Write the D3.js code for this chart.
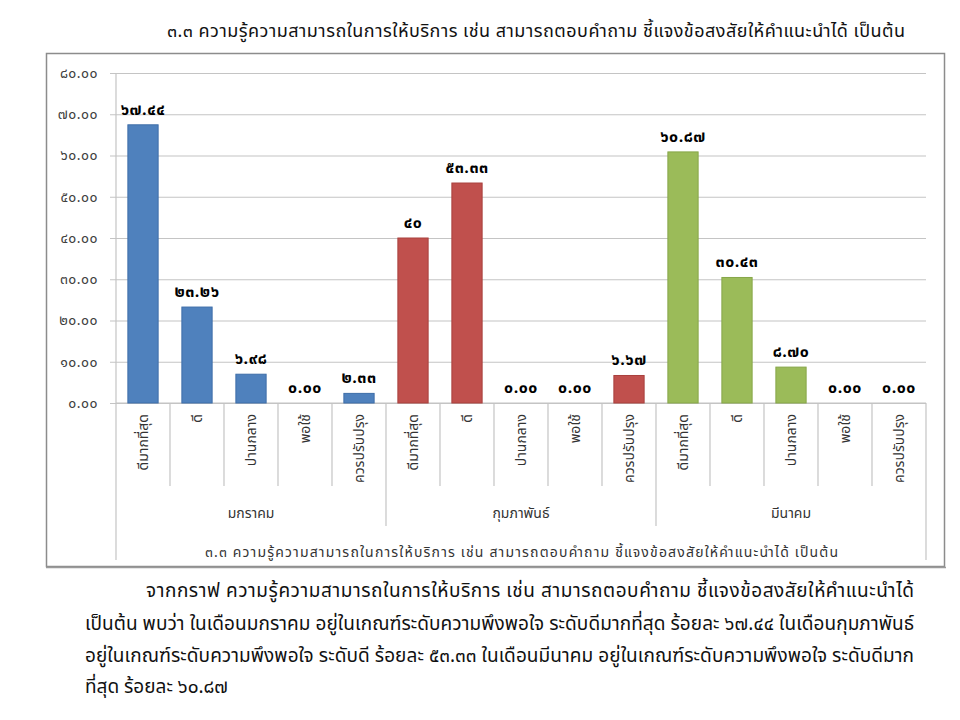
<!DOCTYPE html>
<html>
<head>
<meta charset="utf-8">
<script src="https://cdn.jsdelivr.net/npm/d3@7"></script>
<style>
  body { margin: 0; background: #fff; }
  text { font-family: "Noto Sans Thai", Tahoma, "DejaVu Sans", "Noto Sans", sans-serif; }
</style>
</head>
<body>
<div id="chart"></div>
<script>
var months = [ 'มกราคม', 'กุมภาพันธ์', 'มีนาคม' ];
var levels = [ 'ดีมากที่สุด', 'ดี', 'ปานกลาง', 'พอใช้', 'ควรปรับปรุง' ];

var janValues = [ 67.44, 23.26, 6.98, 0.00, 2.33 ];
var febValues = [ 40, 53.33, 0.00, 0.00, 6.67 ];
var marValues = [ 60.87, 30.43, 8.70, 0.00, 0.00 ];

var janLabels = [ '๖๗.๔๔', '๒๓.๒๖', '๖.๙๘', '๐.๐๐', '๒.๓๓' ];
var febLabels = [ '๔๐', '๕๓.๓๓', '๐.๐๐', '๐.๐๐', '๖.๖๗' ];
var marLabels = [ '๖๐.๘๗', '๓๐.๔๓', '๘.๗๐', '๐.๐๐', '๐.๐๐' ];

var yTicks = [ 0, 10, 20, 30, 40, 50, 60, 70, 80 ];

var title = '๓.๓ ความรู้ความสามารถในการให้บริการ  เช่น สามารถตอบคำถาม ชี้แจงข้อสงสัยให้คำแนะนำได้  เป็นต้น';
var axisTitle = '๓.๓ ความรู้ความสามารถในการให้บริการ  เช่น สามารถตอบคำถาม  ชี้แจงข้อสงสัยให้คำแนะนำได้ เป็นต้น';
var paragraph = [
    'จากกราฟ ความรู้ความสามารถในการให้บริการ เช่น สามารถตอบคำถาม ชี้แจงข้อสงสัยให้คำแนะนำได้',
    'เป็นต้น พบว่า ในเดือนมกราคม อยู่ในเกณฑ์ระดับความพึงพอใจ ระดับดีมากที่สุด ร้อยละ ๖๗.๔๔  ในเดือนกุมภาพันธ์',
    'อยู่ในเกณฑ์ระดับความพึงพอใจ ระดับดี ร้อยละ ๕๓.๓๓  ในเดือนมีนาคม อยู่ในเกณฑ์ระดับความพึงพอใจ ระดับดีมาก',
    'ที่สุด ร้อยละ ๖๐.๘๗'
];

var colors = [ '#4f81bd', '#c0504d', '#9bbb59' ];
var strokes = [ '#3d6da8', '#a9403d', '#86a648' ];

var thaiDigits = '๐๑๒๓๔๕๖๗๘๙';
function toThai(s) {
    return s.replace(/[0-9]/g, function(d) { return thaiDigits[+d]; });
}

// flatten months x levels into one row of bars
var rows = [];
[ janValues, febValues, marValues ].forEach(function(vals, m) {
    var labels = [ janLabels, febLabels, marLabels ][m];
    vals.forEach(function(v, i) {
        rows.push({ key: m + '-' + i, month: m, level: levels[i], value: v, label: labels[i] });
    });
});

var width = 960, height = 720;
// note: "top" clashes with window.top, so prefix everything
var plotLeft = 116, plotRight = 926, plotTop = 73, plotBottom = 403;

var svg = d3.select('#chart').append('svg')
    .attr('width', width).attr('height', height);

svg.append('rect').attr('width', width).attr('height', height).attr('fill', '#fff');

// title above the box
svg.append('text')
   .attr('x', 167).attr('y', 37)
   .attr('font-size', 18).attr('fill', '#111')
   .attr('textLength', 738).attr('lengthAdjust', 'spacing')
   .text(title);

// chart frame
svg.append('rect')
   .attr('x', 46.5).attr('y', 53.5).attr('width', 898).attr('height', 513)
   .attr('fill', '#fff').attr('stroke', '#8c8c8c').attr('stroke-width', 1.5);
svg.append('line')
   .attr('x1', 46).attr('x2', 946).attr('y1', 567.5).attr('y2', 567.5)
   .attr('stroke', '#9a9a9a').attr('stroke-width', 1.5);

var x = d3.scaleBand().domain(rows.map(function(r) { return r.key; }))
    .range([ plotLeft, plotRight ]).paddingInner(0.44).paddingOuter(0.22);
var y = d3.scaleLinear().domain([ 0, 80 ]).range([ plotBottom, plotTop ]);

// gridlines + y labels
var yAxis = d3.axisLeft(y).tickValues(yTicks).tickSize(-(plotRight - plotLeft)).tickPadding(18)
    .tickFormat(function(d) { return toThai(d3.format('.2f')(d)); });
var ya = svg.append('g').attr('transform', 'translate(' + plotLeft + ',0)').call(yAxis);
ya.select('.domain').remove();
ya.selectAll('.tick line').attr('stroke', '#c4c4c4').attr('x1', -6).attr('stroke-width', 1.2);
ya.selectAll('.tick text').attr('font-size', 14).attr('fill', '#404040')
  .attr('letter-spacing', 0.5)
  .style('font-family', '"Noto Sans Thai", Tahoma, "DejaVu Sans", sans-serif');

// category/month grid lines below the axis
var step = x.step();
var lineColor = '#c4c4c4';
svg.append('line').attr('x1', plotLeft).attr('x2', plotRight).attr('y1', plotBottom).attr('y2', plotBottom)
   .attr('stroke', lineColor).attr('stroke-width', 1.2);
svg.append('line').attr('x1', plotLeft).attr('x2', plotLeft).attr('y1', plotTop).attr('y2', 560)
   .attr('stroke', lineColor).attr('stroke-width', 1.2);
svg.append('line').attr('x1', plotRight).attr('x2', plotRight).attr('y1', plotBottom).attr('y2', 560)
   .attr('stroke', lineColor).attr('stroke-width', 1.2);
d3.range(1, rows.length).forEach(function(i) {
    var isMonth = i % levels.length === 0;
    svg.append('line')
       .attr('x1', plotLeft + i * step).attr('x2', plotLeft + i * step)
       .attr('y1', plotBottom).attr('y2', isMonth ? 526 : 486)
       .attr('stroke', lineColor).attr('stroke-width', 1.2);
});

// bars
svg.append('g').selectAll('rect').data(rows).enter()
   .append('rect')
   .attr('x', function(r) { return x(r.key); })
   .attr('width', x.bandwidth())
   .attr('y', function(r) { return y(r.value); })
   .attr('height', function(r) { return y(0) - y(r.value); })
   .attr('fill', function(r) { return colors[r.month]; })
   .attr('stroke', function(r) { return r.value > 0 ? strokes[r.month] : 'none'; })
   .attr('stroke-width', 1);

// value labels
svg.append('g').selectAll('text').data(rows).enter()
   .append('text')
   .attr('x', function(r) { return x(r.key) + x.bandwidth() / 2; })
   .attr('y', function(r) { return y(r.value) - 10; })
   .attr('text-anchor', 'middle')
   .attr('font-size', 16).attr('font-weight', 'bold').attr('fill', '#000')
   .attr('letter-spacing', 0.5)
   .text(function(r) { return r.label; });

// rotated level names
svg.append('g').selectAll('text').data(rows).enter()
   .append('text')
   .attr('transform', function(r) {
       return 'translate(' + (x(r.key) + x.bandwidth() / 2) + ',414) rotate(-90)';
   })
   .attr('text-anchor', 'end').attr('dominant-baseline', 'central')
   .attr('font-size', 14).attr('fill', '#333')
   .text(function(r) { return r.level; });

// month names
svg.append('g').selectAll('text').data(months).enter()
   .append('text')
   .attr('x', function(m, i) { return plotLeft + (i + 0.5) * step * levels.length; })
   .attr('y', 518)
   .attr('text-anchor', 'middle')
   .attr('font-size', 14).attr('fill', '#333')
   .text(function(m) { return m; });

svg.append('text')
   .attr('x', 205).attr('y', 557)
   .attr('font-size', 14).attr('fill', '#333')
   .attr('textLength', 633).attr('lengthAdjust', 'spacing')
   .text(axisTitle);

// paragraph below the chart, justified like the document
var lineY = [ 597, 630, 662, 693 ];
svg.append('g').selectAll('text').data(paragraph).enter()
   .append('text')
   .attr('x', function(t, i) { return i === 0 ? 146 : 85; })
   .attr('y', function(t, i) { return lineY[i]; })
   .attr('font-size', 19).attr('fill', '#111')
   .each(function(t, i) {
       if (i < paragraph.length - 1) {
           d3.select(this).attr('textLength', 914 - (i === 0 ? 146 : 85)).attr('lengthAdjust', 'spacing');
       }
   })
   .text(function(t) { return t; });
</script>
</body>
</html>
